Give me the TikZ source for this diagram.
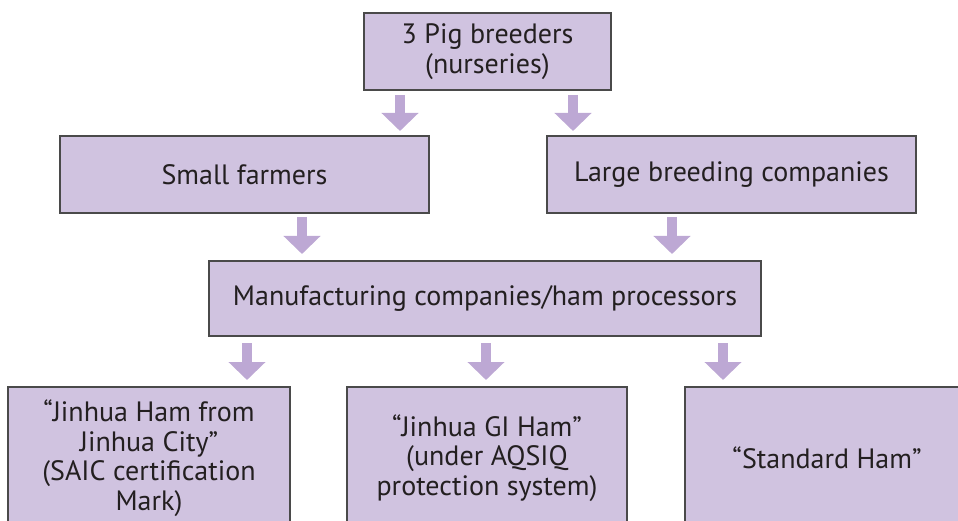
\documentclass[tikz,border=0pt]{standalone}
\usepackage{fontspec}
\setmainfont{PT Sans}
\usetikzlibrary{arrows.meta}
\definecolor{boxfill}{HTML}{D0C3E0}
\definecolor{arrowcol}{HTML}{BDA8D4}
\definecolor{boxline}{HTML}{4A4A4A}
\definecolor{txt}{HTML}{231F20}
\begin{document}
\begin{tikzpicture}[x=1pt,y=-1pt,
  box/.style={draw=boxline,line width=1.1pt,fill=boxfill,rectangle,inner sep=0pt,
    text=txt,align=center,font=\fontsize{28}{29.5}\selectfont},
  bigarrow/.style={draw=arrowcol,line width=10pt,-{Triangle[width=36pt,length=18pt]}}]
\useasboundingbox (0,0) rectangle (958,521);
\node[box,minimum width=247pt,minimum height=77pt] (top) at (487.5,51.5) {3 Pig breeders\\(nurseries)};
\node[box,minimum width=369pt,minimum height=77pt] (small) at (244.5,174.5) {Small farmers};
\node[box,minimum width=369pt,minimum height=77pt] (large) at (731.5,174.5) {Large breeding companies};
\node[box,minimum width=552pt,minimum height=75pt] (manu) at (485,298.5) {Manufacturing companies/ham processors};
\node[box,minimum width=282pt,minimum height=142pt] (city) at (149,458) {“Jinhua Ham from\\Jinhua City”\\(SAIC certification\\Mark)};
\node[box,minimum width=280pt,minimum height=142pt] (gi) at (487,458) {“Jinhua GI Ham”\\(under AQSIQ\\protection system)};
\node[box,minimum width=284pt,minimum height=142pt] (std) at (827,458) {“Standard Ham”};
% arrow endpoints
\coordinate (a1s) at (400,95);  \coordinate (a1e) at (400,131);
\coordinate (a2s) at (573,95);  \coordinate (a2e) at (573,131);
\coordinate (b1s) at (302,217); \coordinate (b1e) at (302,254);
\coordinate (b2s) at (672,217); \coordinate (b2e) at (672,254);
\coordinate (c1s) at (247,343); \coordinate (c1e) at (247,380);
\coordinate (c2s) at (486,343); \coordinate (c2e) at (486,380);
\coordinate (c3s) at (723,343); \coordinate (c3e) at (723,380);
\draw[bigarrow] (a1s) -- (a1e);
\draw[bigarrow] (a2s) -- (a2e);
\draw[bigarrow] (b1s) -- (b1e);
\draw[bigarrow] (b2s) -- (b2e);
\draw[bigarrow] (c1s) -- (c1e);
\draw[bigarrow] (c2s) -- (c2e);
\draw[bigarrow] (c3s) -- (c3e);
\end{tikzpicture}
\end{document}
